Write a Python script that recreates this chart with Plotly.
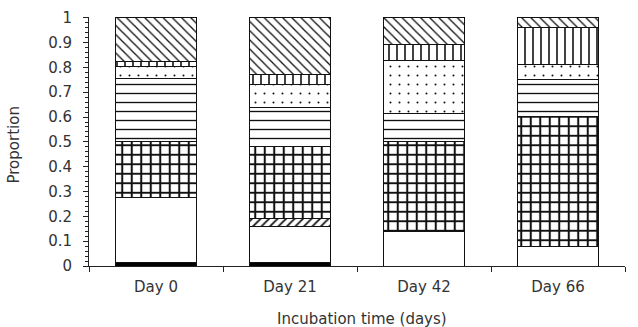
import plotly.graph_objects as go

categories = ["Day 0", "Day 21", "Day 42", "Day 66"]

# proportions, bottom to top
black_solid = [0.015, 0.015, 0.0, 0.0]
white_open = [0.26, 0.145, 0.138, 0.078]
fwd_hatch = [0.0, 0.03, 0.0, 0.0]
grid_cross = [0.225, 0.29, 0.362, 0.524]
horiz_lines = [0.256, 0.16, 0.113, 0.148]
dotted = [0.049, 0.09, 0.214, 0.061]
vert_lines = [0.02, 0.04, 0.067, 0.149]
back_hatch = [0.175, 0.23, 0.106, 0.04]

y_tick_vals = [0, 0.1, 0.2, 0.3, 0.4, 0.5, 0.6, 0.7, 0.8, 0.9, 1]
y_tick_text = ["0", "0.1", "0.2", "0.3", "0.4", "0.5", "0.6", "0.7", "0.8", "0.9", "1"]

series = [
    ("black", black_solid, "", 8, 0.3),
    ("white", white_open, "", 8, 0.3),
    ("fwd", fwd_hatch, "/", 6, 0.3),
    ("grid", grid_cross, "+", 9.5, 0.38),
    ("horiz", horiz_lines, "-", 9, 0.15),
    ("dots", dotted, ".", 9, 0.04),
    ("vert", vert_lines, "|", 8, 0.2),
    ("back", back_hatch, "\\", 6.5, 0.2),
]

fig = go.Figure()
for name, vals, shape, size, sol in series:
    color = "black" if name == "black" else "white"
    fig.add_trace(go.Bar(
        x=categories, y=vals, name=name,
        marker=dict(
            color=color,
            line=dict(color="#111", width=1),
            pattern=dict(shape=shape, fgcolor="#111", bgcolor="white",
                         size=size, solidity=sol, fillmode="replace",
                         fgopacity=1) if shape else None,
        ),
        showlegend=False,
    ))

font_family = "DejaVu Sans, Liberation Sans, sans-serif"
fig.update_layout(
    barmode="stack",
    bargap=0.4,
    width=638, height=327,
    margin=dict(l=89, r=13, t=17, b=61),
    paper_bgcolor="white", plot_bgcolor="white",
    font=dict(family=font_family, size=15, color="#333"),
    xaxis=dict(
        automargin=False,
        showline=True, linecolor="#222", linewidth=1,
        ticks="outside", tickson="boundaries", ticklen=5, tickcolor="#222",
        ticklabelstandoff=7,
        showgrid=False,
        tickfont=dict(size=15),
    ),
    yaxis=dict(
        automargin=False,
        range=[0, 1.003],
        showline=True, linecolor="#222", linewidth=1,
        tickvals=y_tick_vals, ticktext=y_tick_text,
        ticks="outside", ticklen=5, tickcolor="#222",
        ticklabelstandoff=8,
        minor=dict(dtick=0.02, ticks="outside", ticklen=3, tickcolor="#222", showgrid=False),
        showgrid=False, zeroline=False,
        tickfont=dict(size=15),
    ),
    annotations=[
        dict(
            text="Incubation time (days)", xref="paper", yref="paper",
            x=0.51, y=0, xanchor="center", yanchor="top", yshift=-42,
            showarrow=False, font=dict(size=15, color="#333"),
        ),
        dict(
            text="Proportion", xref="paper", yref="paper",
            x=0, y=0.5, xanchor="center", yanchor="middle",
            xshift=-76, yshift=-4, textangle=-90,
            showarrow=False, font=dict(size=15, color="#333"),
        ),
    ],
)

fig.write_html("out.html")
